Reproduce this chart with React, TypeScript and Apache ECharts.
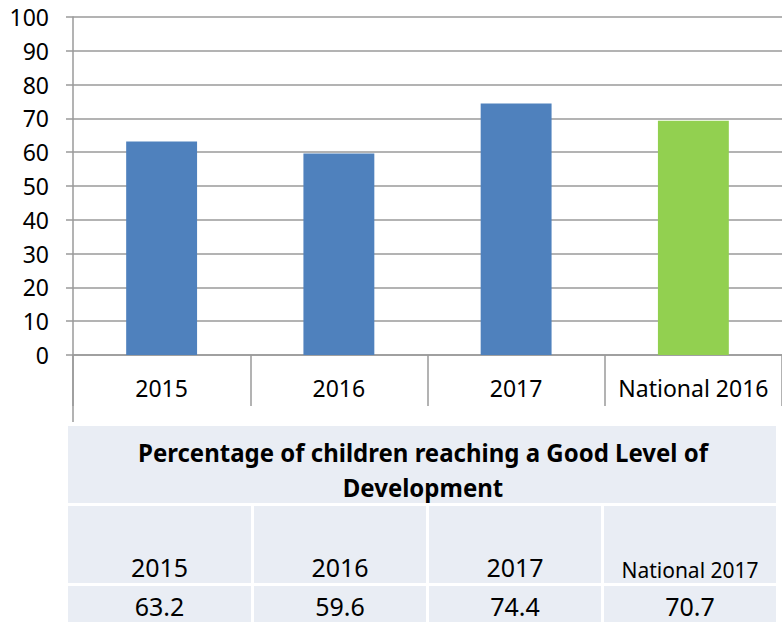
import React, { useEffect, useRef } from "react";
import * as echarts from "echarts";

const barCategories = ["2015", "2016", "2017", "National 2016"];
const barValues = [63.2, 59.6, 74.4, 69.3];
const barColors = ["#4f81bd", "#4f81bd", "#4f81bd", "#92d050"];
const yTicks = { min: 0, max: 100, interval: 10 };

const tableTitleLines = ["Percentage of children reaching a Good Level of", "Development"];
const tableHeaders = ["2015", "2016", "2017", "National 2017"];
const tableValues = ["63.2", "59.6", "74.4", "70.7"];

const FONT = "'Noto Sans', 'Open Sans', sans-serif";
const GRID = "#9a9a9a";
const TABLE_BG = "#e9edf4";

export default function App() {
  const ref = useRef<HTMLDivElement>(null);
  useEffect(() => {
    if (!ref.current) return;
    const chart = echarts.init(ref.current, null, { renderer: "svg" });

    const cols = [
      [68, 251],
      [254, 426],
      [429, 601],
      [604, 776],
    ];
    const graphics: any[] = [];
    graphics.push({
      type: "line",
      shape: { x1: 73, y1: 355, x2: 73, y2: 422 },
      style: { stroke: GRID, lineWidth: 1.5 },
    });
    graphics.push({
      type: "rect",
      shape: { x: 68, y: 426, width: 708, height: 77 },
      style: { fill: TABLE_BG },
    });
    tableTitleLines.forEach((t, i) => {
      graphics.push({
        type: "text",
        x: 423,
        y: i === 0 ? 452.5 : 487,
        scaleY: 1.05,
        style: {
          text: t,
          font: `bold 24px ${FONT}`,
          fill: "#000",
          align: "center",
          verticalAlign: "middle",
        },
      });
    });
    cols.forEach(([a, b], i) => {
      graphics.push({
        type: "rect",
        shape: { x: a, y: 506, width: b - a, height: 77 },
        style: { fill: TABLE_BG },
      });
      graphics.push({
        type: "rect",
        shape: { x: a, y: 586, width: b - a, height: 36 },
        style: { fill: TABLE_BG },
      });
      const small = tableHeaders[i].length > 6;
      graphics.push({
        type: "text",
        x: (a + b) / 2,
        y: small ? 570 : 567,
        style: {
          text: tableHeaders[i],
          font: `${small ? 21 : 25}px ${FONT}`,
          fill: "#000",
          align: "center",
          verticalAlign: "middle",
        },
      });
      graphics.push({
        type: "text",
        x: (a + b) / 2,
        y: 606,
        style: {
          text: tableValues[i],
          font: `25px ${FONT}`,
          fill: "#000",
          align: "center",
          verticalAlign: "middle",
        },
      });
    });

    chart.setOption({
      animation: false,
      grid: { left: 73, top: 17, width: 709, height: 338, containLabel: false },
      xAxis: {
        type: "category",
        data: barCategories,
        axisLine: { show: true, lineStyle: { color: GRID, width: 1.5 } },
        axisTick: { show: true, interval: 0, length: 51, lineStyle: { color: GRID, width: 1.5 } },
        axisLabel: { fontSize: 23, color: "#000", fontFamily: FONT, margin: 21, interval: 0 },
      },
      yAxis: {
        type: "value",
        min: yTicks.min,
        max: yTicks.max,
        interval: yTicks.interval,
        axisLine: { show: true, lineStyle: { color: GRID, width: 1.5 } },
        axisTick: { show: true, length: 7, lineStyle: { color: GRID, width: 1.5 } },
        splitLine: { show: true, lineStyle: { color: GRID, width: 1.5 } },
        axisLabel: { fontSize: 23, color: "#000", fontFamily: FONT, margin: 24 },
      },
      series: [
        {
          type: "bar",
          data: barValues.map((v, i) => ({ value: v, itemStyle: { color: barColors[i] } })),
          barWidth: "40%",
        },
      ],
      graphic: graphics,
    });
    return () => chart.dispose();
  }, []);
  return (
    <div
      ref={ref}
      style={{ position: "absolute", left: 0, top: 0, width: 782, height: 622, background: "#fff" }}
    />
  );
}
